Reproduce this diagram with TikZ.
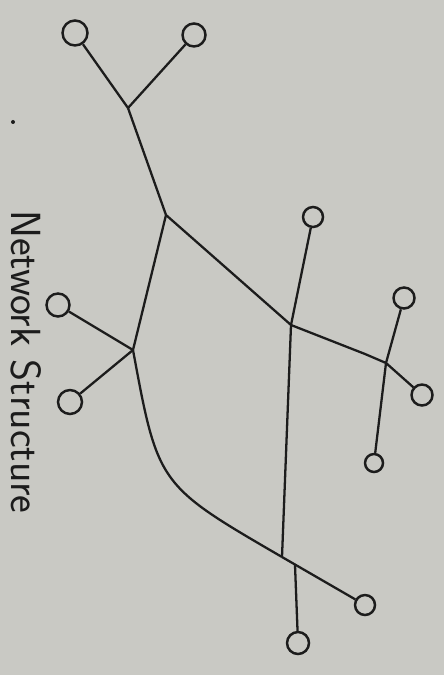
\documentclass[tikz,border=0pt]{standalone}
\usepackage{tikz}
\usetikzlibrary{positioning,calc}
\definecolor{paper}{HTML}{C9C9C4}
\definecolor{ink}{HTML}{1C1C1C}

\begin{document}
\begin{tikzpicture}[x=0.02cm, y=-0.02cm, line width=1.3pt,
    term/.style={circle, draw=ink, line width=1.4pt, minimum size=0.42cm, inner sep=0pt},
    link/.style={draw=ink, line width=1.3pt}]
  \fill[paper] (0,0) rectangle (444,675);
  \useasboundingbox (0,0) rectangle (444,675);
  % junctions
  \coordinate (jA) at (128,108);
  \coordinate (jB) at (166,215);
  \coordinate (jC) at (291,325);
  \coordinate (jD) at (133,350);
  \coordinate (jE) at (386,363);
  \coordinate (jF) at (282,557);
  \coordinate (jG) at (295,565);
  % terminals
  \node[term, minimum size=0.5cm] (t1) at (75,33) {};
  \node[term, minimum size=0.46cm] (t2) at (194,35) {};
  \node[term, minimum size=0.4cm] (t3) at (313,217) {};
  \node[term] (t4) at (404,298) {};
  \node[term, minimum size=0.46cm] (t5) at (58,305) {};
  \node[term, minimum size=0.48cm] (t6) at (70,402) {};
  \node[term] (t7) at (422,395) {};
  \node[term, minimum size=0.36cm] (t8) at (374,463) {};
  \node[term, minimum size=0.4cm] (t9) at (365,605) {};
  \node[term, minimum size=0.44cm] (t10) at (298,643) {};
  % links
  \foreach \a/\b in {t1/jA, t2/jA, jA/jB, jB/jC, jB/jD, jC/t3, jD/t5, jD/t6,
                     jC/jF, jE/t4, jE/t7, jE/t8, jF/t9, jG/t10}
    \draw[link] (\a) -- (\b);
  \draw[link] (jC) -- (365,354) -- (jE);
  \draw[link] (jD) .. controls (158,485) .. (jF);
  % caption
  \fill[ink] (13,122) circle (2);
  \node[rotate=-90, font=\fontsize{24}{28}\selectfont\sffamily, text=ink] (cap) at (26,362) {Network Structure};
\end{tikzpicture}
\end{document}
